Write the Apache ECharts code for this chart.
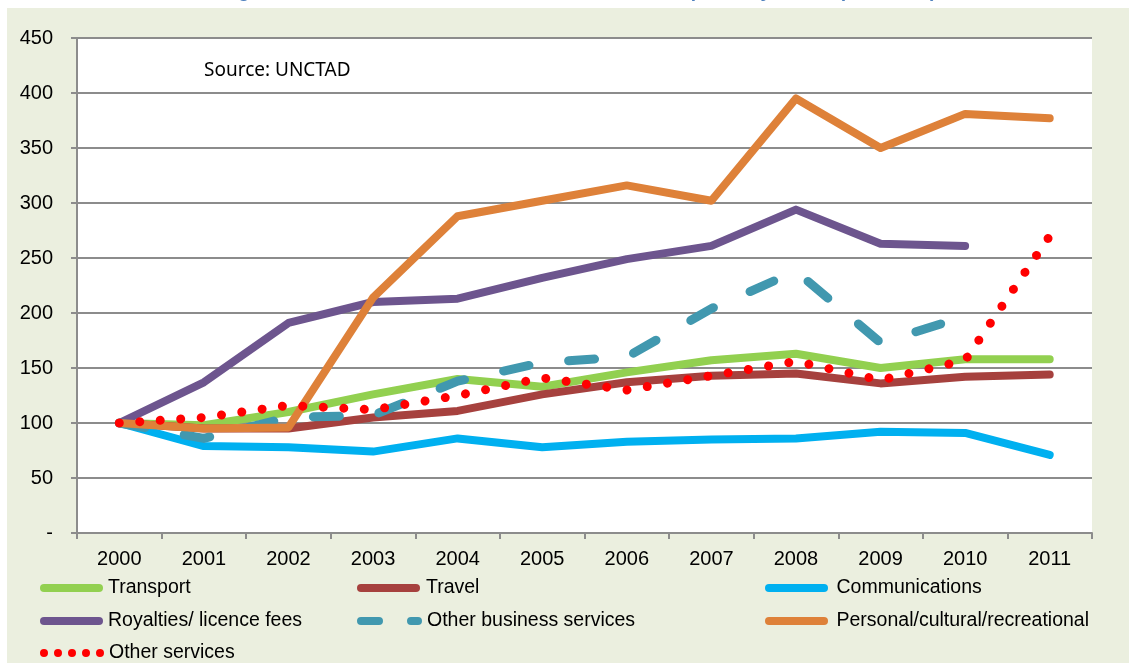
<!DOCTYPE html>
<html>
<head>
<meta charset="utf-8">
<script src="https://cdn.jsdelivr.net/npm/echarts@6/dist/echarts.min.js"></script>
<style>
    html, body { margin: 0; padding: 0; background: #fff; }
    #chart { width: 1129px; height: 663px; }
</style>
</head>
<body>
<div id="chart"></div>
<script>
    // index, 2000 = 100
    var years = ['2000', '2001', '2002', '2003', '2004', '2005', '2006', '2007', '2008', '2009', '2010', '2011'];
    var transport = [100, 98, 110, 126, 140, 133, 146, 157, 163, 150, 158, 158];
    var travel = [100, 95, 95, 105, 111, 126, 137, 143, 145, 136, 142, 144];
    var communications = [100, 79, 78, 74, 86, 78, 83, 85, 86, 92, 91, 71];
    var royalties = [100, 137, 191, 210, 213, 232, 249, 261, 294, 263, 261, null];
    var otherBusiness = [100, 86, 105, 107, 138, 155, 160, 204, 238, 173, 197, null];
    var personal = [100, 95, 96, 214, 288, 302, 316, 302, 395, 350, 381, 377];
    var otherServices = [100, 105, 116, 112, 125, 141, 130, 143, 156, 139, 157, 270];

    var chart = echarts.init(document.getElementById('chart'));

    // legend icons
    var solidIcon = 'path://M4,0 H59 A4,4 0 0 1 59,8 H4 A4,4 0 0 1 4,0 Z';
    var dashIcon = 'path://M4,0 H22 A4,4 0 0 1 22,8 H4 A4,4 0 0 1 4,0 Z M54,0 H61 A4,4 0 0 1 61,8 H54 A4,4 0 0 1 54,0 Z';
    var dotIcon = 'path://M0,4 A4,4 0 1 0 8,4 A4,4 0 1 0 0,4 Z M14,4 A4,4 0 1 0 22,4 A4,4 0 1 0 14,4 Z M28,4 A4,4 0 1 0 36,4 A4,4 0 1 0 28,4 Z M42,4 A4,4 0 1 0 50,4 A4,4 0 1 0 42,4 Z M56,4 A4,4 0 1 0 64,4 A4,4 0 1 0 56,4 Z';

    function line(name, data, color, type, width) {
        return {
            name: name,
            type: 'line',
            data: data,
            symbol: 'none',
            connectNulls: false,
            lineStyle: { color: color, width: width || 8, type: type || 'solid', cap: 'round', join: 'round' },
            itemStyle: { color: color },
            emphasis: { disabled: true }
        };
    }

    function legendItem(name, left, top, icon, w) {
        return {
            data: [name],
            left: left,
            top: top,
            padding: 0,
            icon: icon,
            itemWidth: w,
            itemHeight: 8,
            selectedMode: false,
            textStyle: { fontFamily: 'Liberation Sans', fontSize: 19.5, color: '#000' }
        };
    }

    chart.setOption({
        backgroundColor: '#fff',
        animation: false,
        title: {
            text: 'Figure 4. Evolution of the world creative services imports, by sector (2000=100)',
            left: 216,
            top: -23,
            textStyle: { fontFamily: 'Liberation Sans', fontSize: 19, fontWeight: 'bold', color: '#4F81BD' }
        },
        graphic: [
            { type: 'rect', z: -10, shape: { x: 7, y: 8, width: 1122, height: 655 }, style: { fill: '#EBEFDF' } },
            { type: 'text', left: 204, top: 61, z: 100,
              style: { text: 'Source: UNCTAD', font: '19px "Noto Sans"', fill: '#000' } }
        ],
        grid: {
            left: 77, right: 37, top: 38, bottom: 130,
            show: true, backgroundColor: '#fff', borderWidth: 0
        },
        legend: [
            legendItem('Transport', 40, 578, solidIcon, 63),
            legendItem('Royalties/ licence fees', 40, 611, solidIcon, 63),
            legendItem('Other services', 40, 643, dotIcon, 64),
            legendItem('Travel', 357, 578, solidIcon, 65),
            legendItem('Other business services', 357, 611, dashIcon, 65),
            legendItem('Communications', 765, 578, solidIcon, 70),
            legendItem('Personal/cultural/recreational', 765, 611, solidIcon, 70)
        ],
        xAxis: {
            type: 'category',
            data: years,
            boundaryGap: true,
            axisLine: { lineStyle: { color: '#8C8C8C', width: 2 } },
            axisTick: { show: true, length: 6, lineStyle: { color: '#8C8C8C', width: 2 } },
            axisLabel: { fontFamily: 'Liberation Sans', fontSize: 20, color: '#000', margin: 16 }
        },
        yAxis: {
            type: 'value',
            min: 0,
            max: 450,
            interval: 50,
            axisLine: { show: true, lineStyle: { color: '#8C8C8C', width: 2 } },
            axisTick: { show: true, length: 6, lineStyle: { color: '#8C8C8C', width: 2 } },
            splitLine: { lineStyle: { color: '#8C8C8C', width: 2 } },
            axisLabel: {
                fontFamily: 'Liberation Sans', fontSize: 20, color: '#000', margin: 24,
                formatter: function (v) { return v === 0 ? '-' : v; }
            }
        },
        series: [
            line('Transport', transport, '#92D050'),
            line('Travel', travel, '#A6413E'),
            line('Communications', communications, '#00B0F0'),
            line('Royalties/ licence fees', royalties, '#6D558E'),
            line('Other business services', otherBusiness, '#4198AF', [26, 40], 9),
            line('Personal/cultural/recreational', personal, '#DE8139'),
            line('Other services', otherServices, '#FF0000', [0.01, 20.5], 9)
        ]
    });
</script>
</body>
</html>
